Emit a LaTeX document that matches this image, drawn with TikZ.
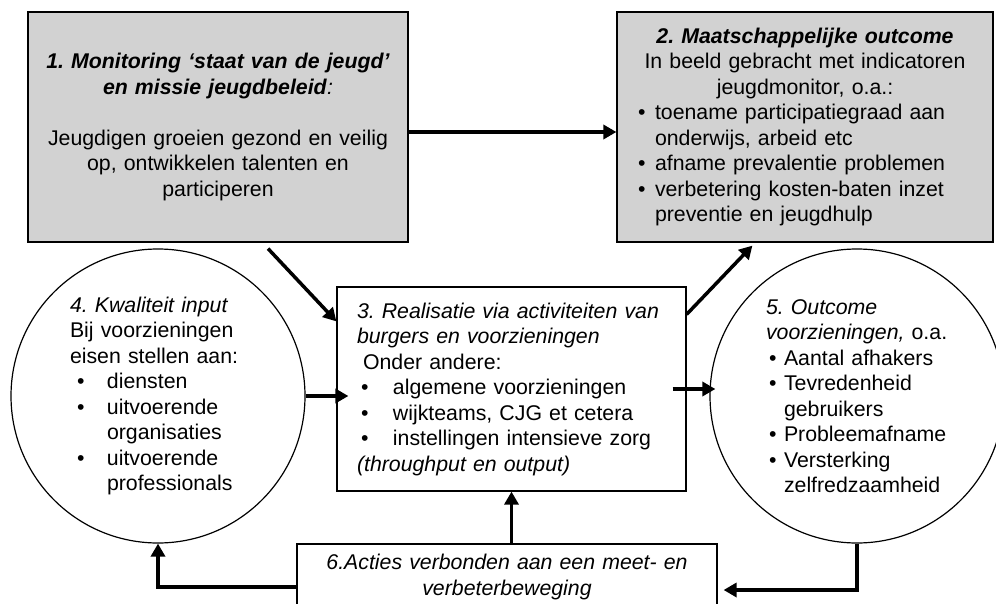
\documentclass[tikz,border=0pt]{standalone}
\usepackage{fontspec}
\setmainfont{Liberation Sans}
\usetikzlibrary{%
  arrows.meta%
}
\newcommand{\bulletat}[2]{\hspace*{#1}\makebox[#2][l]{\textbullet}}
\frenchspacing

\begin{document}
\begin{tikzpicture}[x=1pt,y=-1pt,
    every node/.style={font=\fontsize{21.3}{25.5}\selectfont},
    box/.style={draw,line width=1.2pt,inner sep=0pt},
    greybox/.style={box,fill=gray!35},
    ring/.style={draw,circle,line width=1.2pt,inner sep=0pt,minimum size=294pt,align=left},
    arr/.style={line width=3.5pt,-{Triangle[length=13pt,width=14pt]}}]
  \useasboundingbox (0,0) rectangle (996,604);
  % boxes
  \node[greybox,minimum width=380pt,minimum height=230pt,text width=360pt,align=center]
    (monitor) at (218,127)
    {\textbf{\textit{1. Monitoring ‘staat van de jeugd’}}\\
     \textbf{\textit{en missie jeugdbeleid}}\textit{:}\\[25.5pt]
     Jeugdigen groeien gezond en veilig\\ op, ontwikkelen talenten en\\ participeren};
  \node[greybox,minimum width=376pt,minimum height=230pt,text width=334pt,align=left]
    (outcome) at (805,127)
    {\makebox[334pt]{\textbf{\textit{2. Maatschappelijke outcome}}}\\
     \makebox[334pt]{In beeld gebracht met indicatoren}\\
     \makebox[334pt]{jeugdmonitor, o.a.:}\\
     \bulletat{0pt}{17pt}toename participatiegraad aan\\
     \hspace*{17pt}onderwijs, arbeid etc\\
     \bulletat{0pt}{17pt}afname prevalentie problemen\\
     \bulletat{0pt}{17pt}verbetering kosten-baten inzet\\
     \hspace*{17pt}preventie en jeugdhulp};
  \node[box,minimum width=349pt,minimum height=204pt,text width=309pt,align=left]
    (realisatie) at (511.5,389)
    {\textit{3. Realisatie via activiteiten van}\\
     \textit{burgers en voorzieningen}\\
     \hspace*{6pt}Onder andere:\\
     \bulletat{4pt}{32pt}algemene voorzieningen\\
     \bulletat{4pt}{32pt}wijkteams, CJG et cetera\\
     \bulletat{4pt}{32pt}instellingen intensieve zorg\\
     \textit{(throughput en output)}};
  \node[box,minimum width=420pt,minimum height=66pt,text width=400pt,align=center]
    (acties) at (507,577)
    {\textit{6.Acties verbonden aan een meet- en}\\ \textit{verbeterbeweging}};
  % circles
  \node[ring,text width=176pt] (input) at (158,396)
    {\textit{4. Kwaliteit input}\\
     Bij voorzieningen\\
     eisen stellen aan:\\
     \bulletat{7pt}{30pt}diensten\\
     \bulletat{7pt}{30pt}uitvoerende\\
     \hspace*{37pt}organisaties\\
     \bulletat{7pt}{30pt}uitvoerende\\
     \hspace*{37pt}professionals};
  \node[ring,text width=182pt] (effect) at (857,396)
    {\textit{5. Outcome}\\
     \textit{voorzieningen,} o.a.\\
     \bulletat{3pt}{15pt}Aantal afhakers\\
     \bulletat{3pt}{15pt}Tevredenheid\\
     \hspace*{18pt}gebruikers\\
     \bulletat{3pt}{15pt}Probleemafname\\
     \bulletat{3pt}{15pt}Versterking\\
     \hspace*{18pt}zelfredzaamheid};
  % arrows
  \draw[arr] ([yshift=-5pt]monitor.east) -- ([yshift=-5pt]outcome.west);
  \draw[arr] ([shift={(50,6)}]monitor.south) -- ([shift={(0,35)}]realisatie.north west);
  \draw[arr] ([shift={(0,28)}]realisatie.north east) -- ([shift={(136,3)}]outcome.south west);
  \draw[arr] (input.east) -- ([xshift=12pt]input.east -| realisatie.west);
  \draw[arr] ([xshift=-14pt]realisatie.east) -- ([xshift=6pt]realisatie.east -| effect.west);
  \draw[arr] (acties.north -| realisatie.south) -- (realisatie.south);
  \draw[arr] (effect.south) |- ([shift={(6,13)}]acties.east);
  \draw[arr] ([yshift=-10pt]acties.west) -| (input.south);
\end{tikzpicture}
\end{document}
